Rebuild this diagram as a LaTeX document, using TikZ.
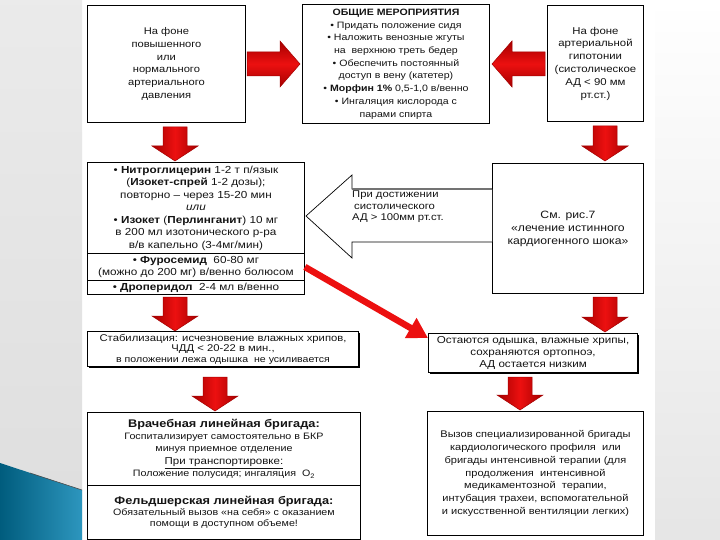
\documentclass[tikz,border=0pt]{standalone}
\usepackage{fontspec}
\setmainfont{Liberation Sans}[FakeStretch=1.15]
\usetikzlibrary{shadows,arrows.meta,calc}
\definecolor{arrred}{RGB}{236,16,16}
\definecolor{arrdark}{RGB}{165,0,0}
\definecolor{teal1}{RGB}{0,92,125}
\definecolor{teal2}{RGB}{45,150,190}
\definecolor{txt}{RGB}{20,20,20}
\newcommand\myfs[2]{\fontsize{#1}{#2}\selectfont}
\tikzset{
  box/.style={draw=black, line width=0.9pt, fill=white, inner sep=0pt, align=center, text=txt, anchor=north west},
  shbox/.style={box, line width=1.1pt, drop shadow={opacity=1, fill=black, shadow xshift=1.6pt, shadow yshift=-1.6pt}},
  redblock/.style={left color=arrdark, right color=arrdark, middle color=arrred, draw=arrdark, line width=0.5pt},
  redblockh/.style={top color=arrdark, bottom color=arrdark, middle color=arrred, draw=arrdark, line width=0.5pt},
  diagarr/.style={draw=arrred, line width=6.5pt, -{Triangle[length=20pt,width=22pt]}},
  bigarrow/.style={draw=black, line width=0.7pt, fill=white},
  pics/downarr/.style={code={\path[redblock] (-12,0) -- (12,0) -- (12,#1-15) -- (23,#1-15) -- (0,#1) -- (-23,#1-15) -- (-12,#1-15) -- cycle;}},
  pics/sidearr/.style={code={\path[redblockh] (0,-12) -- (#1-20,-12) -- (#1-20,-23) -- (#1,0) -- (#1-20,23) -- (#1-20,12) -- (0,12) -- cycle;}},
}
\begin{document}
\begin{tikzpicture}[x=1pt,y=-1pt]
\useasboundingbox (0,0) rectangle (720,540);
% slide background
\fill[white] (0,0) rectangle (720,540);
\shade[top color=black!8, bottom color=black!13] (0,0) rectangle (82,540);
\shade[top color=white, bottom color=black!10] (655,0) rectangle (720,540);
\shade[left color=teal1, right color=teal2] (0,463) -- (82,490) -- (82,540) -- (0,540) -- cycle;
\draw[black!70, line width=0.6pt] (30,473) -- (82,490);

% boxes
\node[box, minimum width=158pt, minimum height=117pt, font=\myfs{9.7}{12.8}] (b1) at (87,5)
  {На фоне\\повышенного\\или\\нормального\\артериального\\давления};
\node[box, minimum width=187pt, minimum height=119pt, font=\myfs{9.2}{12.7}] (b2) at (302,4)
  {\textbf{ОБЩИЕ МЕРОПРИЯТИЯ}\\• Придать положение сидя\\• Наложить венозные жгуты\\на~~верхнюю треть бедер\\• Обеспечить постоянный\\доступ в вену (катетер)\\• \textbf{Морфин 1\%} 0,5-1,0 в/венно\\• Ингаляция кислорода с\\парами спирта};
\node[box, minimum width=96pt, minimum height=116pt, font=\myfs{9.9}{12.8}] (b3) at (547,5)
  {На фоне\\артериальной\\гипотонии\\(систолическое\\АД < 90 мм\\рт.ст.)};

\node[box, minimum width=217pt, minimum height=91pt, font=\myfs{10.2}{12.5}] (b4a) at (87,162)
  {• \textbf{Нитроглицерин} 1-2 т п/язык\\(\textbf{Изокет-спрей} 1-2 дозы);\\повторно – через 15-20 мин\\\textit{или}\\• \textbf{Изокет} (\textbf{Перлинганит}) 10 мг\\в 200 мл изотонического р-ра\\в/в капельно (3-4мг/мин)};
\node[box, minimum width=217pt, minimum height=27pt, font=\myfs{10.2}{12.5}] (b4b) at (87,253)
  {• \textbf{Фуросемид}~~60-80 мг\\(можно до 200 мг) в/венно болюсом};
\node[box, minimum width=217pt, minimum height=14pt, font=\myfs{10.2}{12.5}] (b4c) at (87,280)
  {• \textbf{Дроперидол}~~2-4 мл в/венно};

\node[box, minimum width=151pt, minimum height=130pt, font=\myfs{10.6}{13}] (b5) at (492,163)
  {См. рис.7\\«лечение истинного\\кардиогенного шока»};

% big white arrow pointing to the left box
\draw[bigarrow] (b5.west |- 0,189) -- (352,189) -- (352,175) -- (306,216) -- (352,258) -- (352,242) -- (b5.west |- 0,242);
\draw[black!55, line width=1.8pt] (352,189) -- (b5.west |- 0,189);
\node[align=left, anchor=north west, inner sep=0pt, text=txt, font=\myfs{9.8}{11.3}] (at) at (352,191)
  {При достижении\\\hspace*{2pt}систолического\\АД > 100мм рт.ст.};

\node[shbox, minimum width=271pt, minimum height=35pt, font=\myfs{9.8}{10.5}] (b6) at (87,331)
  {Стабилизация: исчезновение влажных хрипов,\\ЧДД < 20-22 в мин.,\\{\myfs{9.2}{10.5}в положении лежа одышка~~не усиливается}};
\node[shbox, minimum width=209pt, minimum height=39pt, font=\myfs{10.1}{12}] (b7) at (428,333)
  {Остаются одышка, влажные хрипы,\\сохраняются ортопноэ,\\АД остается низким};

\node[box, minimum width=273pt, minimum height=73pt, font=\myfs{9.3}{12}] (b8a) at (87,412)
  {{\myfs{11.1}{13}\bfseries Врачебная линейная бригада:}\\Госпитализирует самостоятельно в БКР\\минуя приемное отделение\\[1pt]{\myfs{10}{12}\underline{При транспортировке:}}\\Положение полусидя; ингаляция~~О\textsubscript{2}};
\node[box, minimum width=273pt, minimum height=54pt, font=\myfs{9.3}{11}] (b8b) at (87,485)
  {{\myfs{11.1}{13}\bfseries Фельдшерская линейная бригада:}\\Обязательный вызов «на себя» с оказанием\\помощи в доступном объеме!};

\node[box, minimum width=216pt, minimum height=124pt, font=\myfs{9.6}{12.8}] (b9) at (427,411)
  {Вызов специализированной бригады\\кардиологического профиля~~или\\бригады интенсивной терапии (для\\продолжения~~интенсивной\\медикаментозной~~терапии,\\интубация трахеи, вспомогательной\\и искусственной вентиляции легких)};

% red block arrows
\pic (r1) at (247,64) {sidearr=53};
\pic[xscale=-1] (l1) at (545,64) {sidearr=53};
\pic (d1) at (175,127) {downarr=34};
\pic (d2) at (605,126) {downarr=35};
\pic (d3) at (175,297) {downarr=34};
\pic (d4) at (605,297) {downarr=35};
\pic (d5) at (215,377) {downarr=34};
\pic (d6) at (520,377) {downarr=33};

% diagonal arrow
\draw[diagarr] (b4b.east) -- ($(b7.north west)+(0,5)$);
\end{tikzpicture}
\end{document}
